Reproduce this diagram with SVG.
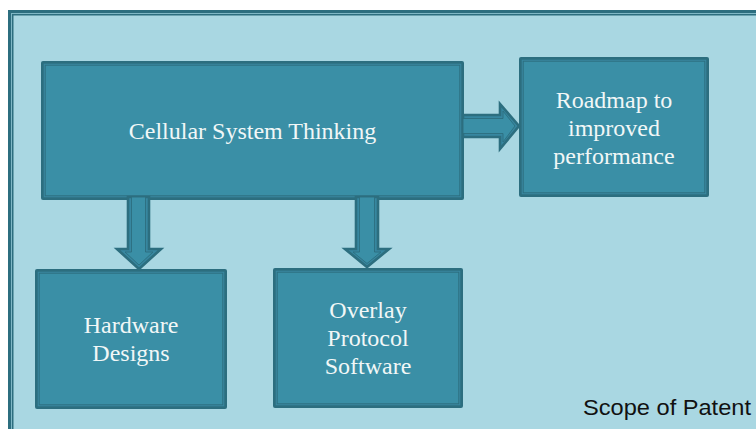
<svg xmlns="http://www.w3.org/2000/svg" width="756" height="429" viewBox="0 0 756 429">
  <defs>
    <style>
      .frame-outer { fill: #2c6e7f; }
      .frame-light { fill: #7fb8c6; }
      .frame-inner { fill: #2c6e7f; }
      .frame-fill { fill: #a9d7e2; }
      .box-outer { fill: #2c6e7f; }
      .box-mid { fill: #3a88a0; }
      .box-fill { fill: #3a8fa6; stroke: #2c6e7f; stroke-width: 0.9; }
      .lbl { font-size: 24px; fill: #f1f7f7; text-anchor: middle; }
      .arr-outer { fill: #3787a0; stroke: #2c6e7f; stroke-width: 2.6; stroke-linejoin: miter; }
      .arr-inner { fill: #3a8fa6; stroke: #2c6e7f; stroke-width: 0.9; stroke-linejoin: miter; }
      .note { font-size: 22px; fill: #111; }
    </style>
  </defs>
  <rect width="756" height="429" fill="#ffffff"/>
  <g id="frame">
    <rect class="frame-outer" x="8" y="10" width="760" height="430"/>
    <rect class="frame-light" x="11" y="13" width="760" height="430"/>
    <rect class="frame-inner" x="12" y="14" width="760" height="430"/>
    <rect class="frame-fill" x="13.5" y="15.5" width="760" height="430"/>
  </g>
  <g id="node-cellular">
    <rect class="box-outer" x="41" y="61" width="423" height="139" rx="2"/>
    <rect class="box-mid" x="43.7" y="63.7" width="417.6" height="133.6"/>
    <rect class="box-fill" x="45.2" y="65.2" width="414.6" height="130.6"/>
    <text class="lbl" font-family="'Liberation Serif', 'Times New Roman', 'DejaVu Serif', serif" x="252.5" y="139">Cellular System Thinking</text>
  </g>
  <g id="node-roadmap">
    <rect class="box-outer" x="519" y="57" width="190" height="140" rx="2"/>
    <rect class="box-mid" x="521.7" y="59.7" width="184.6" height="134.6"/>
    <rect class="box-fill" x="523.2" y="61.2" width="181.6" height="131.6"/>
    <text class="lbl" font-family="'Liberation Serif', 'Times New Roman', 'DejaVu Serif', serif" x="614" y="108">Roadmap to</text>
    <text class="lbl" font-family="'Liberation Serif', 'Times New Roman', 'DejaVu Serif', serif" x="614" y="136">improved</text>
    <text class="lbl" font-family="'Liberation Serif', 'Times New Roman', 'DejaVu Serif', serif" x="614" y="164">performance</text>
  </g>
  <g id="node-hardware">
    <rect class="box-outer" x="35" y="269" width="192" height="140" rx="2"/>
    <rect class="box-mid" x="37.7" y="271.7" width="186.6" height="134.6"/>
    <rect class="box-fill" x="39.2" y="273.2" width="183.6" height="131.6"/>
    <text class="lbl" font-family="'Liberation Serif', 'Times New Roman', 'DejaVu Serif', serif" x="131" y="333">Hardware</text>
    <text class="lbl" font-family="'Liberation Serif', 'Times New Roman', 'DejaVu Serif', serif" x="131" y="361">Designs</text>
  </g>
  <g id="node-overlay">
    <rect class="box-outer" x="273" y="268" width="190" height="140" rx="2"/>
    <rect class="box-mid" x="275.7" y="270.7" width="184.6" height="134.6"/>
    <rect class="box-fill" x="277.2" y="272.2" width="181.6" height="131.6"/>
    <text class="lbl" font-family="'Liberation Serif', 'Times New Roman', 'DejaVu Serif', serif" x="368" y="318">Overlay</text>
    <text class="lbl" font-family="'Liberation Serif', 'Times New Roman', 'DejaVu Serif', serif" x="368" y="346">Protocol</text>
    <text class="lbl" font-family="'Liberation Serif', 'Times New Roman', 'DejaVu Serif', serif" x="368" y="374">Software</text>
  </g>
  <g id="connectors">
    <g id="arrow-right">
      <polygon class="arr-outer" points="463,115 500,115 500,104 519,126 500,149 500,137 463,137"/>
      <polygon class="arr-inner" points="463,118.5 503,118.5 503,111 515,126 503,142 503,133.5 463,133.5"/>
    </g>
    <g id="arrow-down-1">
      <polygon class="arr-outer" points="128,197 149,197 149,249 161,249 139,269 117,249 128,249"/>
      <polygon class="arr-inner" points="131.5,197 145.5,197 145.5,252 153,252 139,265 125,252 131.5,252"/>
    </g>
    <g id="arrow-down-2">
      <polygon class="arr-outer" points="356,197 378,197 378,249 389,249 367,267 345,249 356,249"/>
      <polygon class="arr-inner" points="359.5,197 374.5,197 374.5,252 381,252 367,263.5 353,252 359.5,252"/>
    </g>
  </g>
  <g id="label-scope">
    <text class="note" font-family="'Liberation Sans', Arial, sans-serif" x="583" y="415" textLength="168" lengthAdjust="spacingAndGlyphs">Scope of Patent</text>
  </g>
</svg>
